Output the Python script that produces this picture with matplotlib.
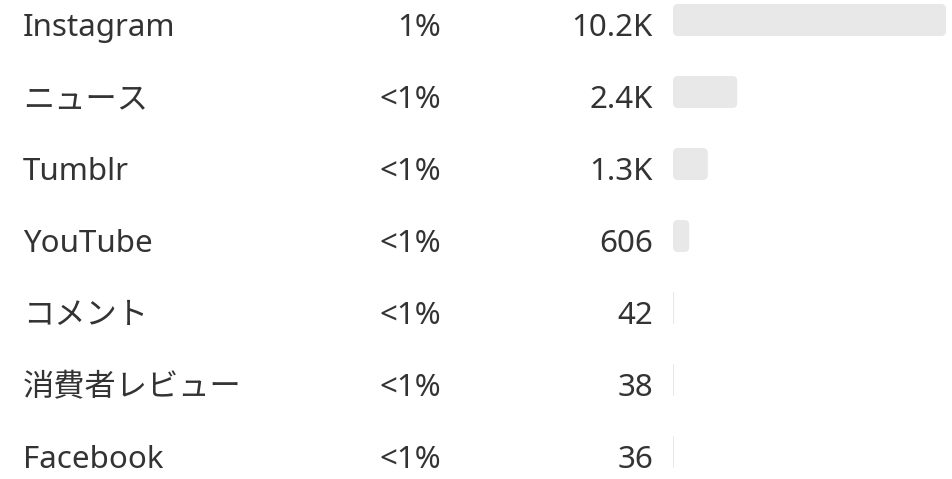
import matplotlib
matplotlib.use("Agg")
import matplotlib.pyplot as plt
from matplotlib.patches import FancyBboxPatch
from matplotlib import transforms

# data
sources = ["Instagram", "ニュース", "Tumblr", "YouTube", "コメント", "消費者レビュー", "Facebook"]
shares = ["1%", "<1%", "<1%", "<1%", "<1%", "<1%", "<1%"]
counts = [10200, 2400, 1300, 606, 42, 38, 36]


def fmt_count(v):
    if v >= 1000:
        return f"{v / 1000:.1f}K"
    return str(v)


W, H = 952, 479
fig = plt.figure(figsize=(W / 100, H / 100), dpi=100)
fig.patch.set_facecolor("white")

plt.rcParams["font.family"] = ["Noto Sans", "Noto Sans CJK JP", "DejaVu Sans"]

# bar area in pixels
bx0, bx1 = 673, 946
ax = fig.add_axes([bx0 / W, 0, (bx1 - bx0) / W, 1])
row_px = 72
first_px = 20
ax.set_xlim(0, max(counts))
ax.set_ylim((H - first_px) / row_px, -first_px / row_px)
ax.axis("off")

bar_h = 32 / row_px
x_per_px = max(counts) / (bx1 - bx0)
y_per_px = 1 / row_px
aspect = y_per_px / x_per_px
radius = 5 * x_per_px

for i, v in enumerate(counts):
    r = min(radius, v / 2)
    box = FancyBboxPatch((0, i - bar_h / 2), v, bar_h,
                         boxstyle=f"round,pad=0,rounding_size={r}",
                         mutation_aspect=aspect,
                         facecolor="#e8e8e8", edgecolor="none")
    ax.add_patch(box)

# text columns: x in figure fraction, y in row units
tr = transforms.blended_transform_factory(fig.transFigure, ax.transData)
base = 16 / row_px
txt_color = "#333333"
fs = 22.5
for i in range(len(sources)):
    fig.text(23 / W, i + base, sources[i], transform=tr, ha="left",
             va="baseline", fontsize=fs, color=txt_color)
    fig.text(441 / W, i + base, shares[i], transform=tr, ha="right",
             va="baseline", fontsize=fs, color=txt_color)
    fig.text(653 / W, i + base, fmt_count(counts[i]), transform=tr, ha="right",
             va="baseline", fontsize=fs, color=txt_color)

fig.savefig("out.png", dpi=100, facecolor="white")
